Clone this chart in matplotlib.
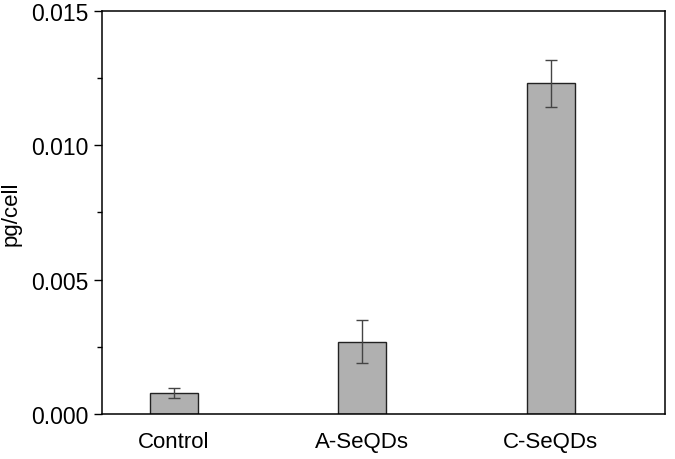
import numpy as np
import matplotlib.pyplot as plt
from matplotlib.ticker import MultipleLocator

categories = ["Control", "A-SeQDs", "C-SeQDs"]
values = [0.00078, 0.00269, 0.01231]
errors = [0.00019, 0.0008, 0.00088]

plt.rcParams['font.family'] = ['Liberation Sans', 'DejaVu Sans']

fig = plt.figure(figsize=(6.75, 4.6), dpi=100)
ax = fig.add_axes([0.151, 0.098, 0.834, 0.876])

x = np.arange(len(categories))
ax.bar(x, values, width=0.255, color='#b0b0b0', edgecolor='#222222', linewidth=1.0,
       yerr=errors, error_kw=dict(ecolor='#444444', elinewidth=1.0, capsize=4, capthick=1.0))

ax.set_xlim(-0.382, 2.605)
ax.set_ylim(0, 0.015)
ax.set_xticks(x)
ax.set_xticklabels(categories)
ax.yaxis.set_major_locator(MultipleLocator(0.005))
ax.yaxis.set_minor_locator(MultipleLocator(0.0025))
ax.yaxis.set_major_formatter(plt.FuncFormatter(lambda v, p: f"{v:.3f}"))
ax.tick_params(axis='y', which='major', direction='out', length=6, width=1, labelsize=16.5)
ax.tick_params(axis='y', which='minor', direction='out', length=3.5, width=1)
ax.tick_params(axis='x', length=0, labelsize=16, pad=12)
ax.set_ylabel('pg/cell', fontsize=16)
ax.yaxis.set_label_coords(-0.143, 0.5)
for s in ax.spines.values():
    s.set_linewidth(1.1)

fig.savefig('out.png', dpi=100)
